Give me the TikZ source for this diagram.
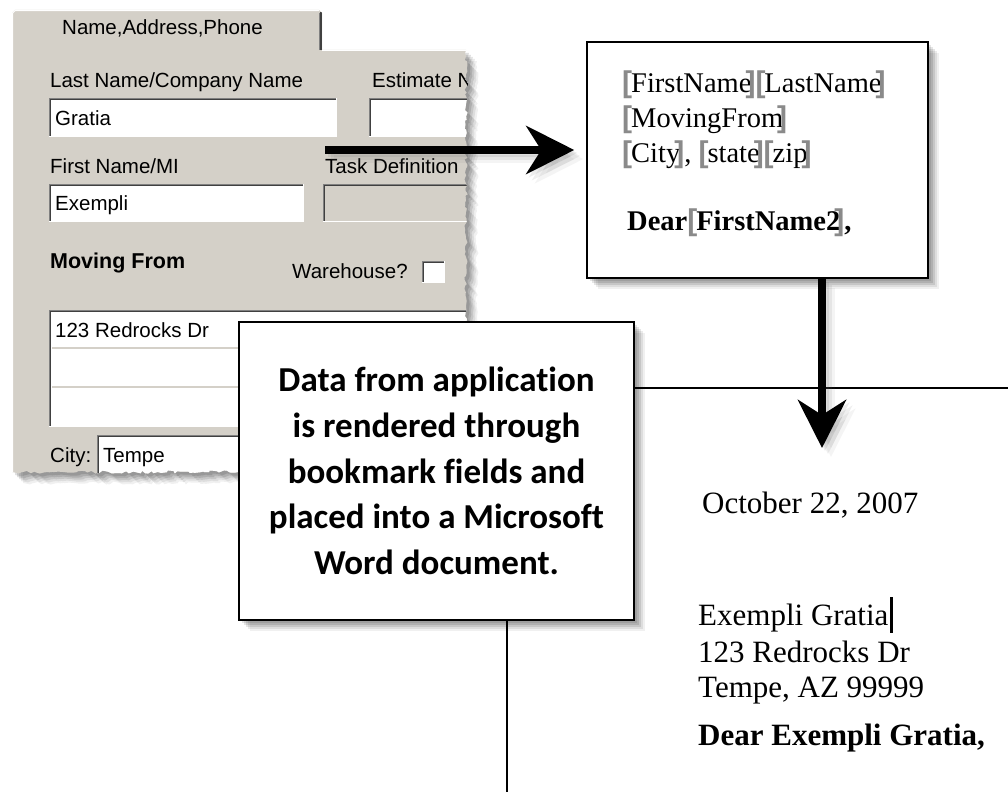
\documentclass[tikz,border=0pt]{standalone}
\usepackage{fontspec}
\setmainfont{Liberation Serif}
\newfontfamily\formfont{Liberation Sans}
\newfontfamily\calfont[Ligatures=NoCommon]{Carlito}
\usetikzlibrary{arrows.meta,decorations.pathmorphing}
\definecolor{panelgray}{HTML}{D4D0C8}
\definecolor{dkline}{HTML}{808080}
\definecolor{blkline}{HTML}{404040}
\definecolor{bmgray}{HTML}{8A8A8A}
\newcommand\bmbr[1]{{\color{bmgray}\formfont\bfseries\fontsize{30}{30}\selectfont#1}}
\newcommand\bmk[1]{\bmbr{[}\kern-1pt#1\kern-6pt\bmbr{]}}
\newcommand\panelpath{(12,13) -- (15,10) -- (319,10) -- (322,13) -- (322,50) -- (466,50) decorate[decoration={random steps,segment length=3pt,amplitude=1.6pt}]{-- (466,472) -- (12,472)} -- cycle}
\newcommand\panelshadowpath{(12,50) -- (466,50) decorate[decoration={random steps,segment length=3pt,amplitude=1.6pt}]{-- (466,472) -- (12,472)} -- cycle}
\newcommand\winfield[6]{%
  \fill[#6] (#2,#3) rectangle (#4,#5);
  \draw[dkline, line width=1.2pt] (#2+0.6,#5) -- (#2+0.6,#3+0.6) -- (#4,#3+0.6);
  \draw[blkline, line width=1.2pt] (#2+1.8,#5-1.2) -- (#2+1.8,#3+1.8) -- (#4-1.2,#3+1.8);
  \draw[white, line width=1.2pt] (#2,#5-0.6) -- (#4-0.6,#5-0.6) -- (#4-0.6,#3);
  \coordinate (#1) at (#2,#3);}
\tikzset{
  softshadow/.style={
    preaction={fill=black,opacity=.10,transform canvas={shift={(3pt,-3pt)}}},
    preaction={fill=black,opacity=.10,transform canvas={shift={(5pt,-5pt)}}},
    preaction={fill=black,opacity=.10,transform canvas={shift={(7pt,-7pt)}}},
    preaction={fill=black,opacity=.08,transform canvas={shift={(9pt,-9pt)}}},
    preaction={fill=black,opacity=.06,transform canvas={shift={(11pt,-11pt)}}}},
  docbox/.style={draw=black, line width=1.5pt, fill=white, inner sep=0pt, softshadow},
  formtxt/.style={font=\formfont\fontsize{20.5}{24}\selectfont, anchor=base west, inner sep=0pt},
  bmtxt/.style={font=\fontsize{28.5}{33}\selectfont, anchor=base west, inner sep=0pt},
  lettxt/.style={font=\fontsize{31}{36}\selectfont, anchor=base west, inner sep=0pt},
  bigarrow/.style={line width=8pt, -{Stealth[length=48pt,width=48pt,inset=15pt]}},
  thinrule/.style={black, line width=1.4pt}
}
\begin{document}
\begin{tikzpicture}[x=1pt,y=-1pt]
\useasboundingbox (0,0) rectangle (1008,792);
\fill[white] (0,0) rectangle (1008,792);

% ---- form panel shadow
\foreach \s/\o in {3/.12,5/.12,7/.10,9/.08,11/.06}{
  \pgfmathsetseed{42}
  \fill[black,opacity=\o,shift={(\s,\s)}] \panelshadowpath;
}
% ---- form panel
\begin{scope}
  \pgfmathsetseed{42}
  \clip \panelpath;
  \fill[panelgray] (0,0) rectangle (500,500);
  \draw[white, line width=1.2pt] (12.6,472) -- (12.6,13) -- (15,10.6) -- (319,10.6);
  \draw[blkline, line width=1.5pt] (321.2,12) -- (321.2,50);
  \draw[dkline, line width=1pt] (319.5,13) -- (319.5,50);
  \draw[white, line width=1.2pt] (322,50.6) -- (470,50.6);
  \node[formtxt] (tab) at (62,35) {Name,Address,Phone};

  \node[formtxt] (lnlab) at (50,87) {Last Name/Company Name};
  \node[formtxt] (estlab) at (372,87) {Estimate N};
  \winfield{lnf}{49}{98}{337}{137}{white}
  \winfield{estf}{369}{98}{480}{137}{white}
  \node[formtxt] (lnval) at (55,125) {Gratia};

  \node[formtxt] (fnlab) at (50,173) {First Name/MI};
  \node[formtxt] (tasklab) at (325,173) {Task Definition};
  \winfield{fnf}{49}{184}{304}{222}{white}
  \winfield{taskf}{323}{184}{480}{222}{panelgray}
  \node[formtxt] (fnval) at (55,210) {Exempli};

  \node[formtxt,font=\formfont\bfseries\fontsize{21.5}{24}\selectfont] (movlab) at (50,268) {Moving From};
  \node[formtxt] (whlab) at (292,278) {Warehouse?};
  \winfield{whbox}{422}{261}{445}{283}{white}

  \winfield{addr}{49}{310}{480}{427}{white}
  \draw[panelgray, line width=2.5pt] (52,348) -- (480,348);
  \draw[panelgray, line width=2.5pt] (52,387) -- (480,387);
  \node[formtxt] (addrval) at (55,337) {123 Redrocks Dr};

  \node[formtxt] (citylab) at (50,462) {City:};
  \winfield{cityf}{97}{435}{480}{500}{white}
  \node[formtxt] (cityval) at (103,462) {Tempe};
\end{scope}

% ---- page rules of the Word document
\coordinate (hl) at (1008,388);
\coordinate (vl) at (507,792);

% ---- bookmark template box
\node[docbox, minimum width=341pt, minimum height=236pt] (bmbox) at (757.5,160) {};
\node[bmtxt] (bm1) at (622,92) {\bmk{FirstName}\bmk{LastName}};
\node[bmtxt] (bm2) at (622,127) {\bmk{MovingFrom}};
\node[bmtxt] (bm3) at (622,162) {\bmk{City}, \bmk{state}\bmk{zip}};
\node[bmtxt,font=\bfseries\fontsize{28.5}{33}\selectfont] (bm4) at (627,230) {Dear\bmk{FirstName2},};

% ---- description box
\node[docbox, minimum width=395pt, minimum height=298pt, align=center,
      font=\calfont\bfseries\fontsize{35}{45.75}\selectfont] (desc) at (436.5,471)
  {Data from application\\is rendered through\\bookmark fields and\\placed into a Microsoft\\Word document.};

\draw[thinrule] (desc.east |- hl) -- (hl);
\draw[thinrule] (desc.south -| vl) -- (vl);

% ---- arrows (shadow then arrow)
\coordinate (a1s) at (325,150);
\coordinate (a2e) at (822,448);
\foreach \s/\o in {3/.12,6/.10,9/.07}{
  \begin{scope}[transform canvas={shift={(\s pt,-\s pt)}}]
    \draw[bigarrow, black!60, opacity=\o] (a1s) -- ([xshift=-12pt]bmbox.west |- a1s);
    \draw[bigarrow, black!60, opacity=\o] (bmbox.south -| a2e) -- (a2e);
  \end{scope}
}
\draw[bigarrow] (a1s) -- ([xshift=-12pt]bmbox.west |- a1s);
\draw[bigarrow] (bmbox.south -| a2e) -- (a2e);

% ---- merged letter
\node[lettxt] (date) at (702,513) {October 22, 2007};
\node[lettxt] (l1) at (698,625) {Exempli Gratia};
\fill[black] ([xshift=1pt,yshift=28pt]l1.base east) rectangle ([xshift=4pt,yshift=-8pt]l1.base east);
\node[lettxt] (l2) at (698,662) {123 Redrocks Dr};
\node[lettxt] (l3) at (698,697) {Tempe, AZ 99999};
\node[lettxt,font=\bfseries\fontsize{31}{36}\selectfont] (l4) at (698,745) {Dear Exempli Gratia,};
\end{tikzpicture}
\end{document}
